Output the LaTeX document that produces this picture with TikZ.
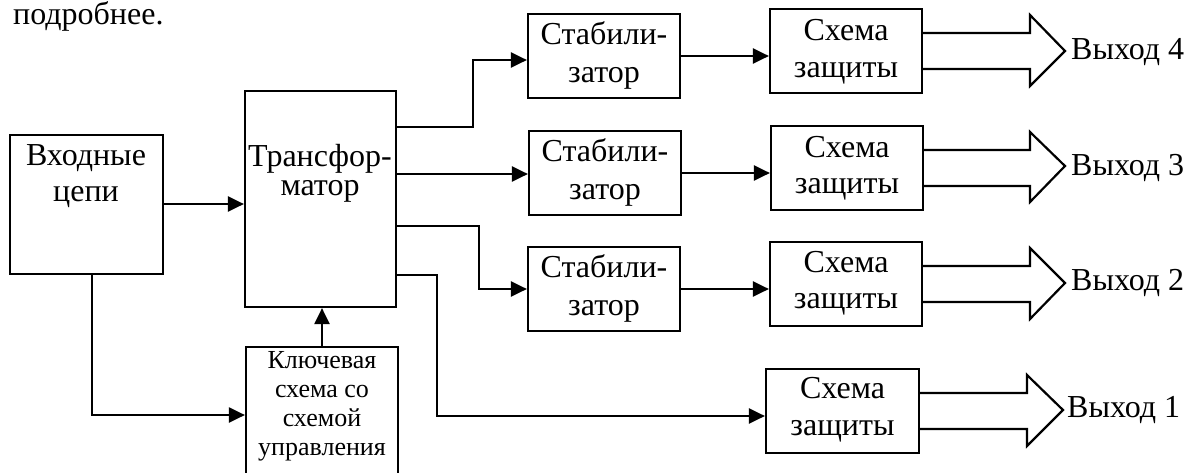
\documentclass[tikz,border=0pt]{standalone}
\usepackage{fontspec}
\setmainfont{Liberation Serif}
\usetikzlibrary{arrows.meta}
\begin{document}
\begin{tikzpicture}[x=1pt,y=-1pt,
  box/.style={draw,line width=2.2pt,rectangle,inner sep=0pt},
  arr/.style={line width=2.2pt,-{Triangle[length=16pt,width=15pt]}},
  big/.style={line width=2.2pt,line join=miter},
  txt/.style={anchor=base,inner sep=0pt,font=\fontsize{32}{36}\selectfont},
  stxt/.style={anchor=base,inner sep=0pt,font=\fontsize{26}{30}\selectfont},
  otxt/.style={anchor=base west,inner sep=0pt,font=\fontsize{32}{36}\selectfont}]
\useasboundingbox (0,0) rectangle (1189,472);
% top text
\node[anchor=base west,inner sep=0pt,font=\fontsize{32}{36}\selectfont] (top) at (13,24) {подробнее.};
% boxes
\node[box,minimum width=153pt,minimum height=139pt] (vh) at (86.5,204.5) {};
\node[box,minimum width=151pt,minimum height=216pt] (tr) at (320.5,199) {};
\node[box,minimum width=152pt,minimum height=136pt] (kl) at (322,415) {};
\node[box,minimum width=152pt,minimum height=84pt] (s1) at (604,56) {};
\node[box,minimum width=152pt,minimum height=84pt] (s2) at (605,173) {};
\node[box,minimum width=152pt,minimum height=84pt] (s3) at (604,289) {};
\node[box,minimum width=152pt,minimum height=84pt] (sc4) at (846,51) {};
\node[box,minimum width=152pt,minimum height=84pt] (sc3) at (847,168) {};
\node[box,minimum width=152pt,minimum height=84pt] (sc2) at (846,284) {};
\node[box,minimum width=153pt,minimum height=84pt] (sc1) at (842.5,411) {};
% texts
\node[txt] (vh1) at (86,165) {Входные};
\node[txt] (vh2) at (86,201) {цепи};
\node[txt] (tr1) at (320,166) {Трансфор-};
\node[txt] (tr2) at (320,195) {матор};
\node[stxt] (kl1) at (322,368) {Ключевая};
\node[stxt] (kl2) at (322,397) {схема со};
\node[stxt] (kl3) at (322,426) {схемой};
\node[stxt] (kl4) at (322,455) {управления};
\node[txt] (s1a) at (604,44) {Стабили-};
\node[txt] (s1b) at (604,82) {затор};
\node[txt] (s2a) at (605,161) {Стабили-};
\node[txt] (s2b) at (605,199) {затор};
\node[txt] (s3a) at (604,277) {Стабили-};
\node[txt] (s3b) at (604,315) {затор};
\node[txt] (c4a) at (846,40) {Схема};
\node[txt] (c4b) at (846,77) {защиты};
\node[txt] (c3a) at (847,157) {Схема};
\node[txt] (c3b) at (847,193) {защиты};
\node[txt] (c2a) at (846,272) {Схема};
\node[txt] (c2b) at (846,308) {защиты};
\node[txt] (c1a) at (842.5,398) {Схема};
\node[txt] (c1b) at (842.5,435) {защиты};
\node[otxt] (o4) at (1071,59) {Выход 4};
\node[otxt] (o3) at (1071,175) {Выход 3};
\node[otxt] (o2) at (1071,290) {Выход 2};
\node[otxt] (o1) at (1067,417) {Выход 1};
% connectors
\draw[arr] (vh.east |- 0,204) -- (tr.west |- 0,204);
\draw[arr] ([xshift=5.5pt]vh.south) |- (kl.west);
\draw[arr] (kl.north) -- (kl.north |- tr.south);
\draw[arr] (tr.east |- 0,127) -- (473,127) -- (473,60) -- (s1.west |- 0,60);
\draw[arr] (tr.east |- 0,174) -- (s2.west |- 0,174);
\draw[arr] (tr.east |- 0,226) -- (479,226) -- (479,289) -- (s3.west |- 0,289);
\draw[arr] (tr.east |- 0,275) -- (437,275) -- (437,416) -- (sc1.west |- 0,416);
\draw[arr] (s1.east) -- (s1.east -| sc4.west);
\draw[arr] (s2.east) -- (s2.east -| sc3.west);
\draw[arr] (s3.east) -- (s3.east -| sc2.west);
% big output arrows
\draw[big] (sc4.east |- 0,33) -- (1030,33) -- (1030,15) -- (1065,51) -- (1030,86) -- (1030,69) -- (sc4.east |- 0,69);
\draw[big] (sc3.east |- 0,150) -- (1030,150) -- (1030,132) -- (1065,166) -- (1030,202) -- (1030,186) -- (sc3.east |- 0,186);
\draw[big] (sc2.east |- 0,266) -- (1030,266) -- (1030,248) -- (1065,283) -- (1030,319) -- (1030,302) -- (sc2.east |- 0,302);
\draw[big] (sc1.east |- 0,393) -- (1027,393) -- (1027,375) -- (1063,410) -- (1027,446) -- (1027,429) -- (sc1.east |- 0,429);
\end{tikzpicture}
\end{document}
